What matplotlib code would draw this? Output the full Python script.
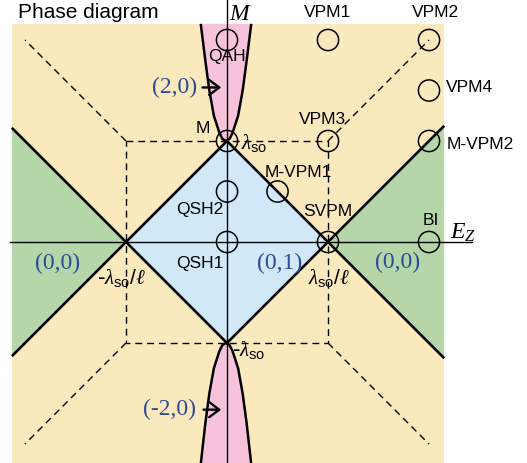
import matplotlib
matplotlib.use("Agg")
import matplotlib.pyplot as plt
from matplotlib.patches import Polygon, Rectangle, Circle
import numpy as np

plt.rcParams['mathtext.fontset'] = 'custom'
plt.rcParams['mathtext.rm'] = 'Liberation Sans'
plt.rcParams['mathtext.sf'] = 'Liberation Sans'
plt.rcParams['mathtext.it'] = 'Liberation Serif:italic'
plt.rcParams['mathtext.bf'] = 'Liberation Serif:bold'

# ---- data (units of lambda_so) ----
x_range = [-2.13, 2.15]
y_range = [-2.2, 2.16]
# QAH boundary: half-width |Ez| vs |M|
qah_M = [1.0, 1.02, 1.08, 1.25, 1.5, 1.8, 2.2]
qah_h = [0.0, 0.035, 0.065, 0.12, 0.165, 0.205, 0.25]

points = {
    "QAH": (0, 2), "VPM1": (1, 2), "VPM2": (2, 2), "VPM4": (2, 1.5),
    "M-VPM2": (2, 1), "VPM3": (1, 1), "M": (0, 1), "QSH2": (0, 0.5),
    "QSH1": (0, 0), "M-VPM1": (0.5, 0.5), "SVPM": (1, 0), "BI": (2, 0),
}
labels = [
    ("QAH", 0.0, 1.84, 'center'), ("M", -0.24, 1.12, 'center'),
    ("VPM1", 1.0, 2.27, 'center'), ("VPM2", 2.06, 2.27, 'center'),
    ("VPM4", 2.17, 1.53, 'left'), ("M-VPM2", 2.17, 0.97, 'left'),
    ("VPM3", 0.95, 1.21, 'center'), ("M-VPM1", 0.71, 0.69, 'center'),
    ("QSH2", -0.27, 0.32, 'center'), ("QSH1", -0.27, -0.21, 'center'),
    ("SVPM", 1.0, 0.30, 'center'), ("BI", 2.02, 0.21, 'center'),
]
phase_labels = [("(0,0)", -1.68, -0.21), ("(0,1)", 0.52, -0.21), ("(0,0)", 1.69, -0.20)]

yellow = "#FBE9BE"
green = "#B5D6A8"
blue = "#D0E8F7"
pink = "#F7C3DC"
txtblue = "#2E4A96"

fig = plt.figure(figsize=(5.27, 4.63), dpi=100)
ax = fig.add_axes([0, 0, 1, 1])
ax.set_xlim((0 - 227) / 101, (527 - 227) / 101)
ax.set_ylim((242 - 463) / 101, 242 / 101)
ax.axis('off')

x0, x1 = x_range
y0, y1 = y_range
ax.add_patch(Rectangle((x0, y0), x1 - x0, y1 - y0, color=yellow, lw=0, zorder=0))
# green regions
ax.add_patch(Polygon([(1, 0), (x1, x1 - 1), (x1, -(x1 - 1))], color=green, lw=0, zorder=1))
ax.add_patch(Polygon([(-1, 0), (x0, -x0 - 1), (x0, x0 + 1)], color=green, lw=0, zorder=1))
# blue diamond
ax.add_patch(Polygon([(1, 0), (0, 1), (-1, 0), (0, -1)], color=blue, lw=0, zorder=1))

# pink QAH regions
qm = np.array(qah_M)
qh = np.array(qah_h)
ring_x = np.concatenate([-qh, qh[::-1]]) - 0.01
ring_m = np.concatenate([qm, qm[::-1]])
ax.add_patch(Polygon(np.column_stack([ring_x, np.clip(ring_m, None, y1)]), color=pink, lw=0, zorder=1))
ax.add_patch(Polygon(np.column_stack([ring_x, np.clip(-ring_m, y0, None)]), color=pink, lw=0, zorder=1))
for s in (-1, 1):
    for sgn in (-1, 1):
        yy = np.clip(sgn * qm, y0, y1)
        ax.plot(s * qh - 0.01, yy, color='black', lw=1.8, zorder=4, solid_capstyle='butt')

# dashed lines
dash = dict(color='black', lw=1.0, ls=(0, (5, 3.5)), zorder=2)
ax.plot([-1, 1, 1, -1, -1], [1, 1, -1, -1, 1], **dash)
for sx in (-1, 1):
    for sy in (-1, 1):
        ax.plot([sx, 2 * sx], [sy, 2 * sy], **dash)

# axes
ax.plot([-2.15, 2.43], [0, 0], color='black', lw=1.0, zorder=3)
ax.plot([0, 0], [-2.3, 2.5], color='black', lw=1.0, zorder=3)

# thick phase boundaries
thick = dict(color='black', lw=1.9, zorder=4, solid_capstyle='butt')
ax.plot([0, x1], [1, 1 - x1], **thick)
ax.plot([0, x1], [-1, x1 - 1], **thick)
ax.plot([0, x0], [1, 1 + x0], **thick)
ax.plot([0, x0], [-1, -1 - x0], **thick)

# circles
for name, (px, py) in points.items():
    ax.add_patch(Circle((px, py), 0.105, fill=False, ec='black', lw=1.1, zorder=5))

sans = 'Liberation Sans'
serif = 'Liberation Serif'
for t, x, y, ha in labels:
    ax.text(x, y, t, ha=ha, va='center', fontsize=12.5, family=sans, zorder=6)

ax.text(-2.07, 2.27, "Phase diagram", ha='left', va='center', fontsize=15, family=sans, zorder=6)
for t, x, y in phase_labels:
    ax.text(x, y, t, ha='center', va='center', fontsize=17, family=serif, color=txtblue, zorder=6)

ax.text(-0.52, 1.53, "(2,0)", ha='center', va='center', fontsize=17, family=serif, color=txtblue, zorder=6)
ax.text(-0.57, -1.66, "(-2,0)", ha='center', va='center', fontsize=17, family=serif, color=txtblue, zorder=6)
arrow = dict(arrowstyle='->,head_length=0.4,head_width=0.3', color='black', lw=1.7, mutation_scale=18)
ax.annotate("", xy=(-0.03, 1.53), xytext=(-0.27, 1.53), arrowprops=arrow, zorder=6)
ax.annotate("", xy=(-0.03, -1.66), xytext=(-0.26, -1.66), arrowprops=arrow, zorder=6)

ax.text(0.13, 2.27, r"$M$", ha='center', va='center', fontsize=17, zorder=6)
ax.text(2.21, 0.10, r"$E_Z$", ha='left', va='center', fontsize=17, zorder=6)
ax.text(0.14, 0.98, r"$\lambda_{\mathrm{so}}$", ha='left', va='center', fontsize=15, zorder=6)
ax.text(0.05, -1.07, r"-$\lambda_{\mathrm{so}}$", ha='left', va='center', fontsize=15, zorder=6)
ax.text(-1.04, -0.36, r"-$\lambda_{\mathrm{so}}/\ell$", ha='center', va='center', fontsize=15, zorder=6)
ax.text(1.01, -0.36, r"$\lambda_{\mathrm{so}}/\ell$", ha='center', va='center', fontsize=15, zorder=6)

fig.savefig("out.png", dpi=100)
